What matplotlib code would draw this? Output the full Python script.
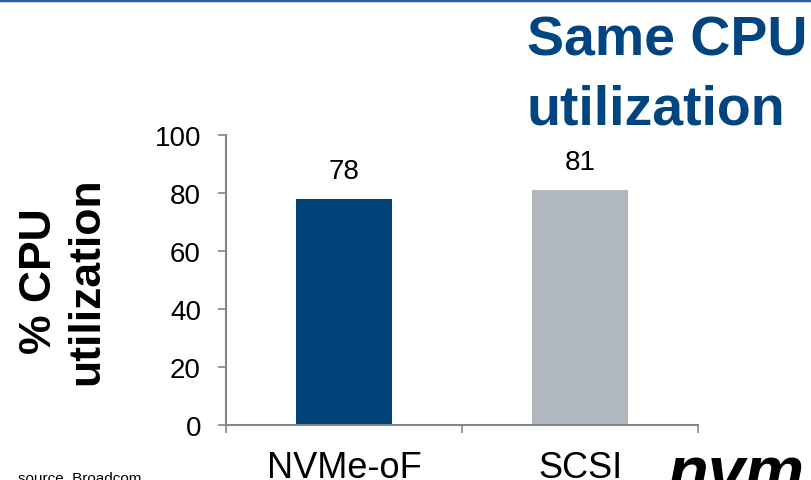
import matplotlib.pyplot as plt
from matplotlib.lines import Line2D

# datos
categorias = ["NVMe-oF", "SCSI"]
valores = [78, 81]
colores = ["#00427A", "#B2B8BF"]
ticks_y = [0, 20, 40, 60, 80, 100]

plt.rcParams['font.family'] = ['Liberation Sans', 'DejaVu Sans']

fig = plt.figure(figsize=(8.12, 4.81), dpi=100)
ax = fig.add_axes([226/812, 1-426/481, 472/812, 290/481])

posiciones = range(len(categorias))
barras = ax.bar(posiciones, valores, width=0.41, color=colores)
ax.bar_label(barras, labels=[str(v) for v in valores], padding=11, fontsize=20)

ax.set_xlim(-0.5, len(categorias)-0.5)
ax.set_ylim(0, 100)
ax.set_yticks(ticks_y)
ax.set_xticks(list(posiciones))
ax.set_xticklabels(categorias, fontsize=26)
ax.set_xticks([-0.5, 0.5, 1.5], minor=True)
ax.tick_params(axis='x', which='major', length=0, pad=18)
ax.tick_params(axis='x', which='minor', length=6, color="#868686", width=1.2)
ax.tick_params(axis='y', labelsize=20, length=6, color="#868686", width=1.2, pad=12)

for lado in ["top", "right"]:
    ax.spines[lado].set_visible(False)
for lado in ["left", "bottom"]:
    ax.spines[lado].set_color("#868686")
    ax.spines[lado].set_linewidth(1.5)

ax.set_ylabel("% CPU\nutilization", fontsize=32, fontweight="bold", va="center")
ax.yaxis.set_label_coords(-0.345, 0.5)

# titulo a la derecha
fig.text(527/812, 1-16/481, "Same CPU\nutilization", fontsize=40, fontweight="bold",
         color="#00457F", ha="left", va="top", linespacing=1.42)

# linea azul arriba
fig.add_artist(Line2D([0, 1], [0.997, 0.997], color="#2E5E95", linewidth=2.5))

fig.text(18/812, -0.004, "source, Broadcom", fontsize=11, ha="left", va="baseline")
fig.text(668/812, -0.025, "nvm", fontsize=48, fontweight="bold", fontstyle="italic",
         ha="left", va="baseline")

plt.savefig("out.png", dpi=100)
